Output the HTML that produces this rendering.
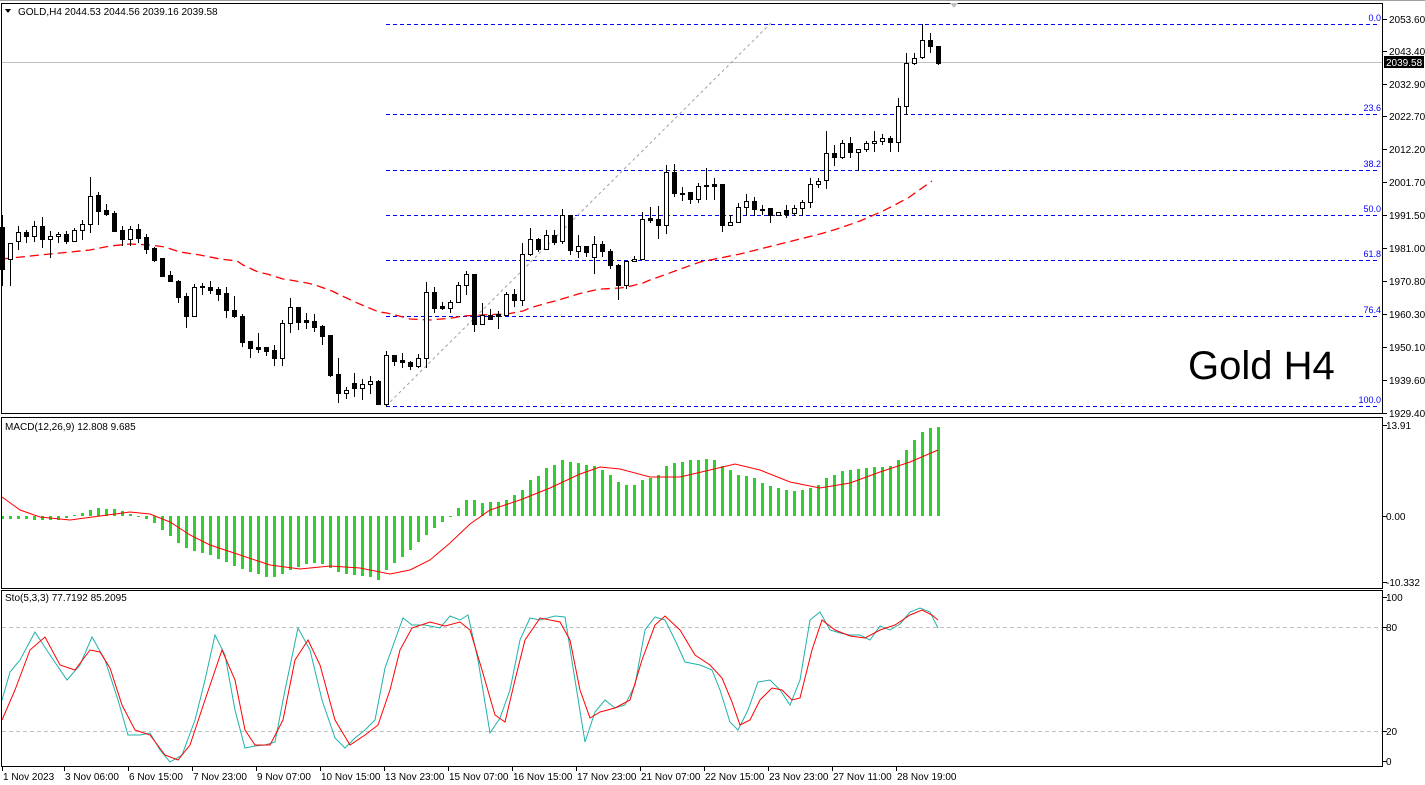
<!DOCTYPE html>
<html><head><meta charset="utf-8"><style>
html,body{margin:0;padding:0;background:#fff;}
svg{display:block;font-family:"Liberation Sans",sans-serif;}
</style></head><body>
<svg id="s" width="1425" height="785" viewBox="0 0 1425 785" xmlns="http://www.w3.org/2000/svg" shape-rendering="crispEdges">
<rect width="1425" height="785" fill="#fff"/>
<line x1="0" y1="0.5" x2="1425" y2="0.5" stroke="#a0a0a0"/>
<g id="fib"></g>
<g id="main"></g>
<g id="macd"></g>
<g id="sto"></g>
<rect x="1.5" y="3.5" width="1381" height="410" fill="none" stroke="#000"/>
<rect x="1.5" y="417.5" width="1381" height="171" fill="none" stroke="#000"/>
<rect x="1.5" y="590.5" width="1381" height="176" fill="none" stroke="#000"/>
<g font-size="10" fill="#000">
<text x="18" y="15">GOLD,H4  2044.53 2044.56 2039.16 2039.58</text>
<polygon points="5,9 11,9 8,13" fill="#000"/>
<text x="5" y="430">MACD(12,26,9) 12.808 9.685</text>
<text x="5" y="601">Sto(5,3,3) 77.7192 85.2095</text>
</g>
<text x="1188" y="379" font-size="40" fill="#000" shape-rendering="auto">Gold H4</text>
<polygon points="950,3 958,3 954,8" fill="#c0c0c0"/>
<g id="axis" font-size="10" fill="#000"></g>
</svg>
<script>
const NS="http://www.w3.org/2000/svg";
function el(p,t,a,txt){const e=document.createElementNS(NS,t);for(const k in a)e.setAttribute(k,a[k]);if(txt!==undefined)e.textContent=txt;p.appendChild(e);return e;}
const fib=document.getElementById('fib'),main=document.getElementById('main'),macd=document.getElementById('macd'),sto=document.getElementById('sto'),ax=document.getElementById('axis');
function interp(pts,x){if(x<=pts[0][0])return pts[0][1];for(let i=1;i<pts.length;i++){if(x<=pts[i][0]){const a=pts[i-1],b=pts[i];return a[1]+(b[1]-a[1])*(x-a[0])/(b[0]-a[0]);}}return pts[pts.length-1][1];}
el(fib,'line',{x1:2,y1:62.5,x2:1382,y2:62.5,stroke:'#c0c0c0'});
[[24,'0.0'],[114,'23.6'],[170,'38.2'],[215,'50.0'],[260,'61.8'],[316,'76.4'],[406,'100.0']].forEach(([y,t])=>{
 el(fib,'line',{x1:386,y1:y+0.5,x2:1380,y2:y+0.5,stroke:'#0000ff','stroke-dasharray':'4,3'});
 el(fib,'text',{x:1381,y:y-3,'font-size':9,fill:'#0000ff','text-anchor':'end'},t);
});
el(fib,'line',{x1:386,y1:406,x2:772,y2:22,stroke:'#a0a0a0','stroke-dasharray':'3,3','shape-rendering':'auto'});
const ma=[[2,259],[40,255],[60,253],[90,250],[110,246],[130,244],[150,245],[165,247],[180,252],[200,255],[220,259],[237,261],[243,265],[258,272],[267,274],[283,279],[290,280],[307,283],[315,285],[332,291],[338,294],[355,302],[362,305],[379,312],[387,313],[403,317],[410,319],[430,320],[452,318],[463,316],[480,315],[507,314],[523,311],[530,308],[547,303],[555,301],[572,296],[578,294],[595,290],[602,289],[620,288],[627,287],[643,283],[650,280],[667,274],[675,271],[700,262],[740,254],[780,244],[820,234],[837,229],[860,221],[883,211],[908,198],[932,181]];
el(main,'polyline',{points:ma.map(p=>p.join(',')).join(' '),fill:'none',stroke:'#ff0000','stroke-width':1.3,'stroke-dasharray':'9,5','shape-rendering':'auto'});
const C=[[0,227,269,215,285],[1,243,259,243,285],[1,232,241,226,249],[0,232,236,230,242],[1,226,236,221,241],[0,226,239,217,247],[1,236,239,231,257],[1,234,236,232,242],[0,234,241,231,243],[1,230,241,228,241],
[1,224,230,220,239],[1,196,224,177,232],[0,195,211,192,224],[0,210,214,204,215],[0,213,231,211,231],[0,230,239,226,245],[1,229,239,226,245],[0,229,238,224,242],[0,237,249,234,253],[0,248,260,247,261],
[0,258,276,258,276],[0,275,281,271,281],[0,281,297,280,302],[0,296,316,293,327],[1,287,316,284,316],[0,286,287,283,294],[0,287,290,281,293],[0,289,294,287,300],[0,293,310,287,317],[0,310,316,296,317],
[0,316,342,314,346],[0,341,348,341,357],[0,347,349,333,352],[0,347,351,347,355],[0,350,358,345,365],[1,323,358,320,365],[1,307,323,298,332],[0,307,322,307,329],[0,320,322,313,328],[0,321,327,314,331],
[0,326,336,325,344],[0,335,375,335,376],[0,374,393,358,402],[1,390,393,387,398],[0,383,388,373,396],[1,384,388,379,399],[1,381,384,376,393],[0,381,404,380,404],[1,355,404,351,406],[0,355,361,355,365],
[0,360,362,353,367],[0,362,366,361,369],[1,358,366,354,367],[1,292,358,282,367],[0,292,308,287,312],[0,306,308,302,309],[1,302,308,300,312],[1,285,302,282,302],[1,274,285,271,294],[0,274,324,274,331],
[1,315,324,303,324],[0,315,319,309,319],[0,314,316,311,328],[1,294,315,292,315],[0,294,300,289,306],[1,254,300,243,305],[1,239,254,228,255],[0,239,249,238,251],[1,235,249,230,249],[0,235,242,230,244],
[1,215,241,209,243],[0,215,250,215,254],[1,246,251,235,257],[0,246,252,246,256],[1,244,257,236,273],[0,244,251,241,256],[0,251,265,249,268],[0,265,285,264,299],[1,261,285,261,288],[1,259,261,256,261],
[1,219,259,212,259],[0,218,220,207,222],[0,219,225,206,238],[1,172,225,165,233],[0,172,193,164,196],[0,193,194,187,200],[0,192,199,192,203],[1,186,199,183,202],[0,185,186,168,199],[0,184,186,178,199],
[0,184,225,184,231],[1,222,225,215,225],[1,207,222,203,222],[1,201,207,194,215],[0,201,209,197,215],[0,209,210,205,214],[0,208,215,208,222],[1,212,215,212,215],[0,210,214,205,217],[1,208,213,205,215],
[1,202,208,200,215],[1,184,202,178,207],[1,181,184,178,187],[1,153,180,131,188],[0,153,157,145,165],[1,143,157,140,158],[0,143,152,137,157],[1,149,152,149,170],[1,143,149,141,151],[1,141,143,131,151],
[1,138,141,134,144],[0,138,142,136,151],[1,106,142,98,151],[1,63,106,53,114],[1,58,63,53,64],[1,40,57,24,58],[0,40,46,33,52],[0,46,63,46,64]];
C.forEach((c,i)=>{const x=2+8*i;
 el(main,'line',{x1:x+0.5,y1:c[3],x2:x+0.5,y2:c[4]+1,stroke:'#000'});
 const h=Math.max(1,c[2]-c[1]);
 if(c[0])el(main,'rect',{x:x-1.5,y:c[1]+0.5,width:4,height:h,fill:'#fff',stroke:'#000'});
 else el(main,'rect',{x:x-2,y:c[1],width:5,height:h+1,fill:'#000'});
});
const HP=[[2,519],[60,520],[90,510],[100,508],[120,510],[140,517],[150,520],[160,528],[170,536],[180,545],[190,550],[200,552],[210,555],[220,560],[240,568],[260,575],[270,578],[280,575],[290,570],[300,566],[310,563],[320,563],[330,568],[340,573],[350,575],[360,576],[370,577],[378,580],[386,570],[394,563],[402,557],[410,550],[418,542],[426,535],[434,528],[442,522],[450,517],[458,508],[466,500],[474,500],[482,503],[490,502],[498,502],[506,500],[514,495],[522,490],[530,480],[538,476],[546,468],[554,465],[562,460],[570,462],[578,463],[586,465],[594,466],[602,470],[610,475],[618,482],[626,485],[634,485],[642,480],[650,478],[658,475],[666,466],[674,463],[682,462],[690,460],[698,460],[706,459],[714,460],[722,466],[730,470],[738,475],[746,476],[754,478],[762,483],[770,486],[778,488],[786,490],[794,491],[802,490],[810,488],[818,485],[826,478],[834,475],[842,471],[850,470],[858,469],[866,468],[874,467],[882,467],[890,466],[898,460],[906,450],[914,440],[922,432],[930,428],[938,427]];
for(let i=0;i<118;i++){const x=2+8*i,v=Math.round(interp(HP,x));const y1=Math.min(516,v),y2=Math.max(516,v);el(macd,'rect',{x:x-1,y:y1,width:3,height:Math.max(1,y2-y1),fill:'#32cd32'});}
const sig=[[2,497],[20,510],[40,517],[70,520],[100,516],[130,512],[150,514],[170,522],[190,535],[210,545],[240,555],[270,565],[300,569],[330,566],[360,568],[390,574],[410,570],[430,560],[450,543],[470,524],[490,510],[520,500],[550,488],[580,474],[600,467],[620,469],[650,477],[680,477],[710,470],[735,464],[760,470],[790,482],[820,488],[850,483],[880,472],[910,462],[938,450]];
el(macd,'polyline',{points:sig.map(p=>p.join(',')).join(' '),fill:'none',stroke:'#ff0000','shape-rendering':'auto'});
[[627,'80'],[731,'20']].forEach(([y,t])=>el(sto,'line',{x1:2,y1:y+0.5,x2:1382,y2:y+0.5,stroke:'#c0c0c0','stroke-dasharray':'4,3'}));
const sm=[[2,700],[10,672],[20,660],[35,632],[50,655],[67,680],[80,665],[92,637],[105,660],[118,700],[128,735],[140,735],[150,733],[160,750],[170,762],[182,755],[195,720],[205,680],[215,635],[225,655],[235,710],[245,748],[255,746],[265,745],[275,742],[285,690],[298,628],[310,650],[322,700],[335,738],[345,748],[355,738],[365,730],[375,720],[385,668],[395,640],[403,618],[412,625],[425,625],[440,628],[450,616],[460,620],[468,615],[478,660],[490,733],[500,718],[510,690],[520,640],[530,618],[540,620],[555,616],[565,617],[575,680],[585,742],[595,712],[605,700],[615,708],[625,705],[635,685],[645,630],[655,617],[665,620],[675,640],[685,662],[700,665],[712,670],[720,690],[730,722],[738,730],[748,710],[758,682],[770,680],[780,690],[790,705],[800,680],[810,620],[820,612],[830,630],[840,633],[850,635],[860,635],[870,640],[880,626],[890,630],[900,624],[910,612],[920,608],[930,612],[938,628]];
const ss=[[2,720],[15,690],[30,650],[45,637],[60,665],[75,670],[90,650],[100,652],[110,668],[122,705],[135,730],[150,735],[165,755],[178,760],[190,745],[205,700],[222,650],[235,680],[245,730],[255,745],[270,745],[283,720],[295,660],[308,640],[320,665],[335,720],[350,745],[365,735],[378,725],[390,690],[400,650],[412,628],[430,622],[445,626],[460,622],[470,630],[482,670],[495,715],[505,722],[515,680],[525,640],[540,618],[560,622],[570,640],[580,690],[590,718],[600,712],[615,708],[630,700],[642,660],[655,625],[665,616],[680,630],[695,655],[710,665],[722,678],[732,702],[740,725],[750,720],[760,700],[772,688],[782,690],[792,700],[800,698],[812,650],[822,620],[835,630],[850,636],[865,638],[880,630],[895,625],[910,615],[922,610],[932,615],[938,620]];
el(sto,'polyline',{points:sm.map(p=>p.join(',')).join(' '),fill:'none',stroke:'#20b2aa','shape-rendering':'auto'});
el(sto,'polyline',{points:ss.map(p=>p.join(',')).join(' '),fill:'none',stroke:'#ff0000','shape-rendering':'auto'});
[[19,'2053.60'],[51,'2043.40'],[84,'2032.90'],[116,'2022.70'],[149,'2012.20'],[182,'2001.70'],[215,'1991.50'],[248,'1981.00'],[281,'1970.80'],[314,'1960.30'],[347,'1950.10'],[380,'1939.60'],[413,'1929.40']].forEach(([y,t])=>{
 el(ax,'line',{x1:1383,y1:y+0.5,x2:1387,y2:y+0.5,stroke:'#000'});
 el(ax,'text',{x:1389,y:y+4},t);
});
el(ax,'rect',{x:1384,y:56,width:40,height:12,fill:'#000'});
el(ax,'text',{x:1386,y:66,fill:'#fff'},'2039.58');
[[425,'13.91'],[516,'0.00'],[582,'-10.332'],[597,'100'],[627,'80'],[731,'20'],[761,'0']].forEach(([y,t])=>{
 el(ax,'line',{x1:1383,y1:y+0.5,x2:1387,y2:y+0.5,stroke:'#000'});
 el(ax,'text',{x:1386,y:y+4},t);
});
[[3,'1 Nov 2023'],[65,'3 Nov 06:00'],[129,'6 Nov 15:00'],[193,'7 Nov 23:00'],[257,'9 Nov 07:00'],[321,'10 Nov 15:00'],[385,'13 Nov 23:00'],[449,'15 Nov 07:00'],[513,'16 Nov 15:00'],[577,'17 Nov 23:00'],[641,'21 Nov 07:00'],[705,'22 Nov 15:00'],[769,'23 Nov 23:00'],[833,'27 Nov 11:00'],[897,'28 Nov 19:00']].forEach(([x,t])=>{
 el(ax,'line',{x1:x-0.5,y1:767,x2:x-0.5,y2:771,stroke:'#000'});
 el(ax,'text',{x:x,y:780},t);
});
</script>
</body></html>
